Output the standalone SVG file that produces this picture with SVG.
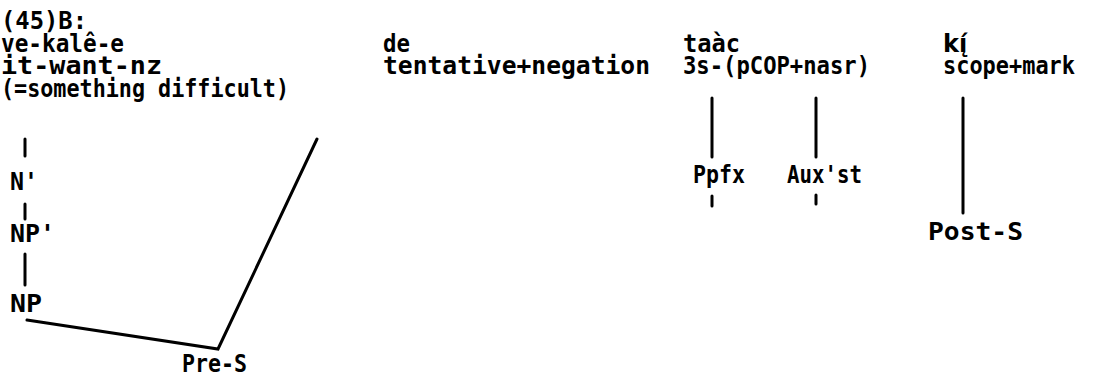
<svg xmlns="http://www.w3.org/2000/svg" width="1106" height="377" viewBox="0 0 1106 377">
<style>
text{font-family:"DejaVu Sans Mono","Liberation Mono",monospace;font-weight:bold;font-size:24px;fill:#000}
.acc{font-family:"DejaVu Sans","Noto Sans",sans-serif}
.ln{stroke:#000;stroke-width:3;fill:none;stroke-linecap:round}
</style>
<rect width="1106" height="377" fill="#fff"/>
<g id="title"><text x="1" y="29" textLength="86" lengthAdjust="spacingAndGlyphs">(45)B:</text></g>
<g id="word1">
<text x="1" y="52" textLength="123" lengthAdjust="spacingAndGlyphs">ve-kalê-e</text>
<text x="1" y="74" textLength="161" lengthAdjust="spacingAndGlyphs">it-want-nz</text>
<text x="1" y="97" textLength="288" lengthAdjust="spacingAndGlyphs">(=something difficult)</text>
</g>
<g id="word2">
<text x="383" y="52" textLength="27" lengthAdjust="spacingAndGlyphs">de</text>
<text x="383" y="74" textLength="267" lengthAdjust="spacingAndGlyphs">tentative+negation</text>
</g>
<g id="word3">
<text x="683" y="52" textLength="57" lengthAdjust="spacingAndGlyphs">taàc</text>
<text x="683" y="74" textLength="187" lengthAdjust="spacingAndGlyphs">3s-(pCOP+nasr)</text>
</g>
<g id="word4">
<text class="acc" x="943" y="52">kį́</text>
<text x="943" y="74" textLength="132" lengthAdjust="spacingAndGlyphs">scope+mark</text>
</g>
<g id="nbar"><text x="10" y="190" textLength="28" lengthAdjust="spacingAndGlyphs">N'</text></g>
<g id="npbar"><text x="10" y="242" textLength="45" lengthAdjust="spacingAndGlyphs">NP'</text></g>
<g id="np"><text x="10" y="312" textLength="32" lengthAdjust="spacingAndGlyphs">NP</text></g>
<g id="pres"><text x="182" y="372" textLength="65" lengthAdjust="spacingAndGlyphs">Pre-S</text></g>
<g id="ppfx"><text x="693" y="183" textLength="52" lengthAdjust="spacingAndGlyphs">Ppfx</text></g>
<g id="auxst"><text x="787" y="183" textLength="75" lengthAdjust="spacingAndGlyphs">Aux'st</text></g>
<g id="posts"><text x="928" y="240" textLength="95" lengthAdjust="spacingAndGlyphs">Post-S</text></g>
<g id="connectors">
<line class="ln" x1="25" y1="139" x2="25" y2="156"/>
<line class="ln" x1="25" y1="204" x2="25" y2="219"/>
<line class="ln" x1="25" y1="254" x2="25" y2="285"/>
<polyline class="ln" points="27,320 218,349 317,139"/>
<line class="ln" x1="712" y1="98" x2="712" y2="157"/>
<line class="ln" x1="816" y1="98" x2="816" y2="157"/>
<line class="ln" x1="963" y1="98" x2="963" y2="213"/>
<line class="ln" x1="712" y1="196" x2="712" y2="206"/>
<line class="ln" x1="816" y1="195" x2="816" y2="204"/>
</g>
</svg>
